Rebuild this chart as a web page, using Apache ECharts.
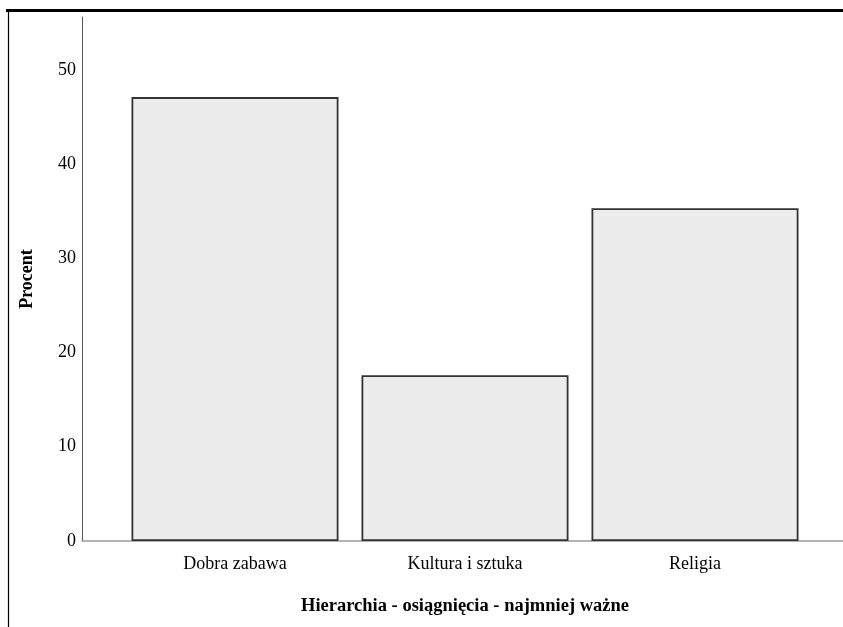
<!DOCTYPE html>
<html>
<head>
<meta charset="utf-8">
<script src="https://cdn.jsdelivr.net/npm/echarts@6/dist/echarts.min.js"></script>
<style>
  html, body { margin: 0; padding: 0; background: #fff; }
  #chart { width: 843px; height: 627px; }
</style>
</head>
<body>
<div id="chart"></div>
<script>
const categories = ['Dobra zabawa', 'Kultura i sztuka', 'Religia']
const percentValues = [47.1, 17.6, 35.3]
const yTicks = [0, 10, 20, 30, 40, 50]

const fontFamily = '"Liberation Serif", "DejaVu Serif", serif'
const yMax = 55.6

const chart = echarts.init(document.getElementById('chart'))

chart.setOption({
  animation: false,
  backgroundColor: '#fff',
  grid: [
    // frame grid: carries the axis lines across the full width
    { left: 82, right: 0, top: 17, bottom: 86 },
    // bar grid: the category bands sit inside the frame
    { left: 120, width: 690, top: 17, bottom: 86 },
  ],
  xAxis: [
    {
      type: 'value',
      gridIndex: 0,
      min: 0,
      max: 1,
      axisLine: { show: true, lineStyle: { color: '#9a9a9a', width: 1.5 } },
      axisTick: { show: false },
      axisLabel: { show: false },
      splitLine: { show: false },
    },
    {
      type: 'category',
      gridIndex: 1,
      data: categories,
      axisLine: { show: false },
      axisTick: { show: false },
      axisLabel: { color: '#000', fontFamily, fontSize: 18, margin: 14 },
      name: 'Hierarchia - osiągnięcia - najmniej ważne',
      nameLocation: 'middle',
      nameGap: 56,
      nameTextStyle: { color: '#000', fontFamily, fontSize: 18.5, fontWeight: 'bold' },
    },
  ],
  yAxis: [
    {
      type: 'value',
      gridIndex: 0,
      min: 0,
      max: yMax,
      interval: 10,
      axisLine: { show: true, lineStyle: { color: '#555', width: 1 } },
      axisTick: { show: false },
      splitLine: { show: false },
      axisLabel: {
        color: '#000',
        fontFamily,
        fontSize: 18,
        margin: 6,
        padding: [5, 0, 0, 0],
        formatter: (value) => (yTicks.includes(value) ? String(value) : ''),
      },
      name: 'Procent',
      nameLocation: 'middle',
      nameGap: 46,
      nameTextStyle: { color: '#000', fontFamily, fontSize: 18, fontWeight: 'bold' },
    },
    {
      type: 'value',
      gridIndex: 1,
      min: 0,
      max: yMax,
      show: false,
      splitLine: { show: false },
    },
  ],
  series: [
    {
      type: 'bar',
      xAxisIndex: 1,
      yAxisIndex: 1,
      data: percentValues,
      barCategoryGap: '10%',
      itemStyle: { color: '#ececec', borderColor: '#333', borderWidth: 1.8 },
    },
  ],
  graphic: [
    { type: 'line', shape: { x1: 6, y1: 10.5, x2: 843, y2: 10.5 }, style: { stroke: '#000', lineWidth: 3 } },
    { type: 'line', shape: { x1: 8.5, y1: 10, x2: 8.5, y2: 627 }, style: { stroke: '#000', lineWidth: 1.2 } },
  ],
})
</script>
</body>
</html>
